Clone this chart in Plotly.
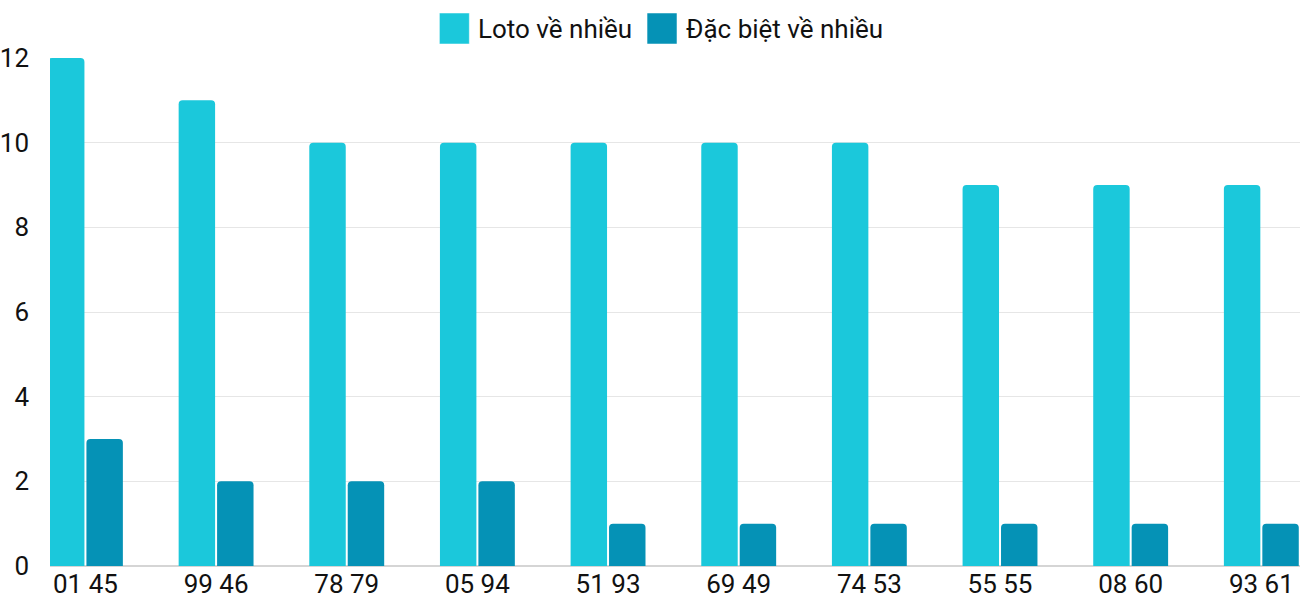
import plotly.graph_objects as go

categories = ["01 45", "99 46", "78 79", "05 94", "51 93", "69 49", "74 53", "55 55", "08 60", "93 61"]
loto_values = [12, 11, 10, 10, 10, 10, 10, 9, 9, 9]
special_values = [3, 2, 2, 2, 1, 1, 1, 1, 1, 1]
series_names = ["Loto về nhiều", "Đặc biệt về nhiều"]
colors = ["#1BC8DB", "#0592B6"]

FONT = "Roboto"

fig = go.Figure()
fig.add_trace(go.Bar(x=categories, y=loto_values, name=series_names[0],
                     marker=dict(color=colors[0], cornerradius=4, line=dict(width=0)),
                     showlegend=False))
fig.add_trace(go.Bar(x=categories, y=special_values, name=series_names[1],
                     marker=dict(color=colors[1], cornerradius=4, line=dict(width=0)),
                     showlegend=False))

# custom legend (big squares like the reference)
L, T, W, H = 48, 58, 1252, 508
legend_items = [(series_names[0], colors[0], 438), (series_names[1], colors[1], 646)]
for name, col, x0 in legend_items:
    fig.add_shape(type="rect", xref="paper", yref="paper",
                  x0=(x0 - L) / W, x1=(x0 + 30 - L) / W,
                  y0=(T + H - 44) / H, y1=(T + H - 13) / H,
                  fillcolor=col, line=dict(color="rgba(255,255,255,0.5)", width=1))
    fig.add_annotation(xref="paper", yref="paper", x=(x0 + 37 - L) / W,
                       y=(T + H - 29) / H, text=name, showarrow=False,
                       xanchor="left", yanchor="middle",
                       font=dict(family=FONT, size=26, color="#111"))

fig.update_layout(
    width=1300, height=600,
    margin=dict(l=L, r=0, t=T, b=600 - T - H, pad=0),
    paper_bgcolor="white", plot_bgcolor="white",
    barmode="group", bargap=0.4116, bargroupgap=0.052,
    font=dict(family=FONT, size=26, color="#111"),
    xaxis=dict(range=[-0.2712, 9.296], showgrid=False, showline=False, zeroline=False,
               ticks="", tickfont=dict(family=FONT, size=26, color="#111")),
    yaxis=dict(range=[0, 12], dtick=2, showgrid=True, gridcolor="#E6E6E6", gridwidth=1,
               zeroline=True, zerolinecolor="#D5D5D5", zerolinewidth=2,
               showline=False, ticks="", ticklabelstandoff=20,
               tickfont=dict(family=FONT, size=26, color="#111")),
)

fig.write_html("out.html", config={"displayModeBar": False},
               post_script="document.body.style.margin='0';document.body.style.overflow='hidden';")
